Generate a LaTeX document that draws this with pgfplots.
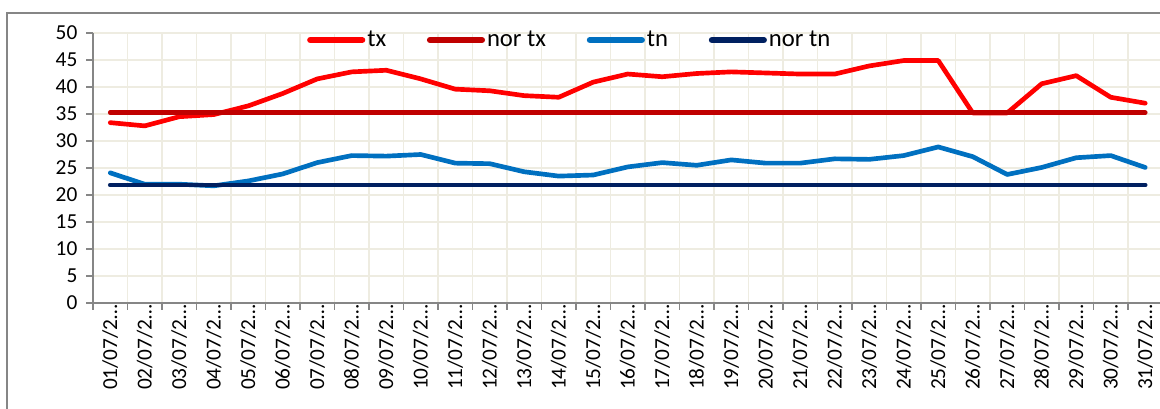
\documentclass[border=0pt]{standalone}
\usepackage{fontspec}
\setmainfont{Carlito}
\usepackage{pgfplots}
\pgfplotsset{compat=1.18}
\definecolor{txred}{RGB}{255,0,0}
\definecolor{nortx}{RGB}{192,0,0}
\definecolor{tnblue}{RGB}{0,112,192}
\definecolor{nortn}{RGB}{0,32,96}
\definecolor{gridc}{RGB}{238,236,225}
\definecolor{axisc}{RGB}{134,134,134}
\begin{document}
\begin{tikzpicture}
\useasboundingbox (0,0) rectangle (870pt,306pt);
\clip (0,0) rectangle (870pt,306pt);
\fill[white] (0,0) rectangle (870pt,306pt);
\draw[axisc, line width=1.5pt] (5.6pt,-20pt) -- (5.6pt,296.25pt) -- (900pt,296.25pt);
\begin{axis}[
  at={(69.75pt,78.75pt)}, anchor=south west,
  scale only axis, width=802.1pt, height=202.5pt,
  xmin=-0.5, xmax=30.5, ymin=0, ymax=50,
  axis lines=left, axis line style={-, draw=axisc, line width=1.5pt},
  ytick={0,5,...,50},
  xtick={-0.5,0.5,...,30.5}, xticklabels={},
  extra x ticks={0,...,30},
  extra x tick labels={01/07/2…,02/07/2…,03/07/2…,04/07/2…,05/07/2…,06/07/2…,07/07/2…,08/07/2…,09/07/2…,10/07/2…,11/07/2…,12/07/2…,13/07/2…,14/07/2…,15/07/2…,16/07/2…,17/07/2…,18/07/2…,19/07/2…,20/07/2…,21/07/2…,22/07/2…,23/07/2…,24/07/2…,25/07/2…,26/07/2…,27/07/2…,28/07/2…,29/07/2…,30/07/2…,31/07/2…},
  extra x tick style={major tick length=0pt, tick style={draw=none}, grid=none,
     xticklabel style={rotate=90, anchor=east, inner sep=1pt}},
  xmajorgrids, ymajorgrids,
  grid style={gridc, line width=1.1pt},
  tick align=outside, major tick length=5.2pt,
  tick style={axisc, line width=1.2pt},
  tick label style={font=\fontsize{16}{16}\selectfont, text=black},
  yticklabel style={xshift=-3pt},
  /pgf/number format/assume math mode=true,
  legend columns=4,
  legend style={draw=none, fill=none, at={(axis description cs:0.2000,0.974)}, anchor=west,
     font=\fontsize{18.5}{18.5}\selectfont, inner sep=0pt,
     nodes={inner sep=1.5pt},
     /tikz/every even column/.append style={column sep=29pt}},
  legend image code/.code={\draw[#1, line width=4.6pt, line cap=round] (0pt,0pt) -- (39pt,0pt);},
  every axis plot/.append style={line width=3.5pt, line cap=round, line join=round, mark=none},
]
\addplot[txred] coordinates {(0,33.4)(1,32.8)(2,34.5)(3,34.9)(4,36.5)(5,38.8)(6,41.5)(7,42.8)(8,43.1)(9,41.5)(10,39.6)(11,39.3)(12,38.4)(13,38.1)(14,40.9)(15,42.4)(16,41.9)(17,42.5)(18,42.8)(19,42.6)(20,42.4)(21,42.4)(22,43.9)(23,44.9)(24,44.9)(25,35.2)(26,35.2)(27,40.6)(28,42.1)(29,38.1)(30,37.0)};
\addlegendentry{tx}
\addplot[nortx] coordinates {(0,35.25)(1,35.25)(2,35.25)(3,35.25)(4,35.25)(5,35.25)(6,35.25)(7,35.25)(8,35.25)(9,35.25)(10,35.25)(11,35.25)(12,35.25)(13,35.25)(14,35.25)(15,35.25)(16,35.25)(17,35.25)(18,35.25)(19,35.25)(20,35.25)(21,35.25)(22,35.25)(23,35.25)(24,35.25)(25,35.25)(26,35.25)(27,35.25)(28,35.25)(29,35.25)(30,35.25)};
\addlegendentry{nor tx}
\addplot[tnblue] coordinates {(0,24.1)(1,22.0)(2,22.0)(3,21.7)(4,22.6)(5,23.9)(6,26.0)(7,27.3)(8,27.2)(9,27.5)(10,25.9)(11,25.8)(12,24.3)(13,23.5)(14,23.7)(15,25.2)(16,26.0)(17,25.5)(18,26.5)(19,25.9)(20,25.9)(21,26.7)(22,26.6)(23,27.3)(24,28.9)(25,27.1)(26,23.8)(27,25.1)(28,26.9)(29,27.3)(30,25.1)};
\addlegendentry{tn}
\addplot[nortn] coordinates {(0,21.85)(1,21.85)(2,21.85)(3,21.85)(4,21.85)(5,21.85)(6,21.85)(7,21.85)(8,21.85)(9,21.85)(10,21.85)(11,21.85)(12,21.85)(13,21.85)(14,21.85)(15,21.85)(16,21.85)(17,21.85)(18,21.85)(19,21.85)(20,21.85)(21,21.85)(22,21.85)(23,21.85)(24,21.85)(25,21.85)(26,21.85)(27,21.85)(28,21.85)(29,21.85)(30,21.85)};
\addlegendentry{nor tn}
\end{axis}
\end{tikzpicture}
\end{document}
